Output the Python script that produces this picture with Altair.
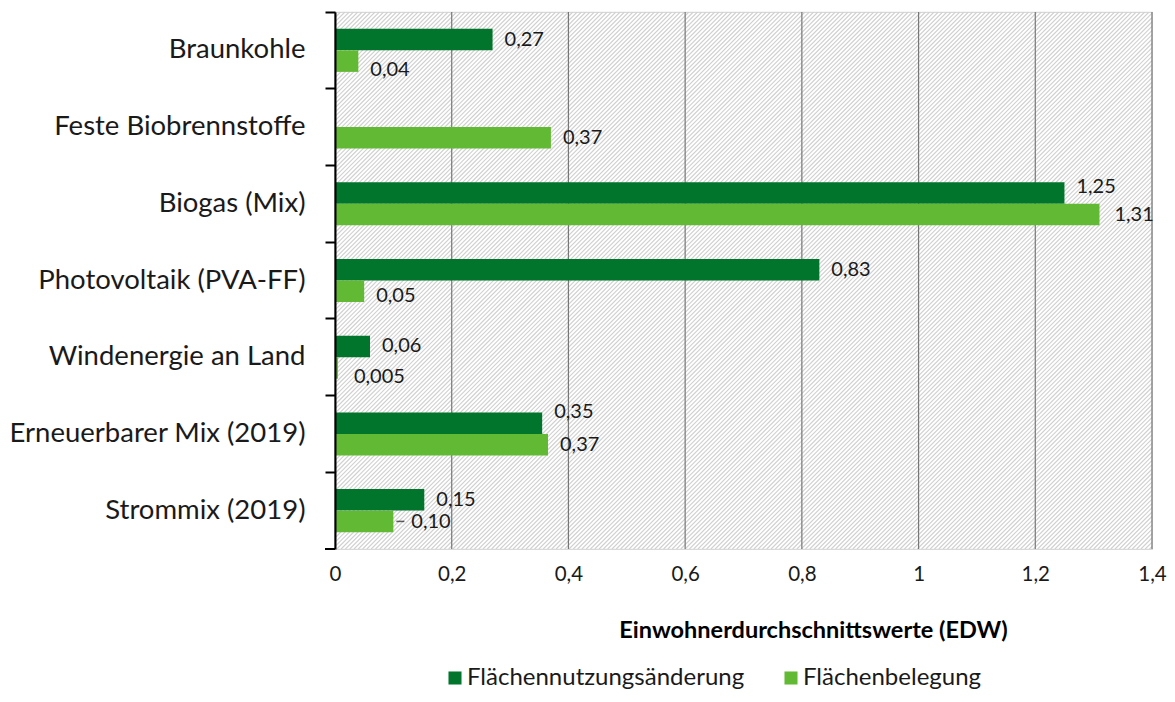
import altair as alt
import pandas as pd

categories = ["Braunkohle", "Feste Biobrennstoffe", "Biogas (Mix)", "Photovoltaik (PVA-FF)",
              "Windenergie an Land", "Erneuerbarer Mix (2019)", "Strommix (2019)"]
series = ["Flächennutzungsänderung", "Flächenbelegung"]
nutzungsaenderung = [0.27, None, 1.25, 0.83, 0.06, 0.355, 0.153]
belegung = [0.04, 0.37, 1.31, 0.05, 0.005, 0.365, 0.10]
label_nutzung = ["0,27", "", "1,25", "0,83", "0,06", "0,35", "0,15"]
label_belegung = ["0,04", "0,37", "1,31", "0,05", "0,005", "0,37", "0,10"]
x_ticks = [0, 0.2, 0.4, 0.6, 0.8, 1.0, 1.2, 1.4]
colors = ["#00752B", "#62B933"]
x_title = "Einwohnerdurchschnittswerte (EDW)"

rows = []
for i, c in enumerate(categories):
    rows.append({"cat": c, "series": series[0], "v": nutzungsaenderung[i], "lab": label_nutzung[i]})
    rows.append({"cat": c, "series": series[1], "v": belegung[i], "lab": label_belegung[i]})
df = pd.DataFrame(rows)
grid_df = pd.DataFrame({"v": x_ticks})

W, H = 817, 537
FONT = "Lato"

# label placement nudges (dx, dy) mimicking the original's label collision handling
nudges = {
    ("Braunkohle", 1): (12, 9),
    ("Biogas (Mix)", 0): (12, -6),
    ("Biogas (Mix)", 1): (15, 0),
    ("Photovoltaik (PVA-FF)", 1): (12, 5),
    ("Windenergie an Land", 1): (16, 9),
    ("Erneuerbarer Mix (2019)", 0): (12, -11),
    ("Strommix (2019)", 1): (18, 1),
}

x_scale = alt.Scale(domain=[0, 1.4], nice=False)
x_axis = alt.Axis(values=x_ticks, grid=False, labelFlush=False,
                  domain=False, ticks=False, labelPadding=15,
                  labelExpr="replace(format(datum.value, '~g'), '.', ',')",
                  labelFont=FONT, labelFontSize=20.5, labelColor="#1a1a1a",
                  titleFont=FONT, titleFontSize=23.5, titleFontWeight="bold",
                  titleColor="#000000", titleX=478, titleY=81,
                  titleAlign="center", titleBaseline="middle")
y_axis = alt.Axis(bandPosition=0, domainColor="#000000", domainWidth=2,
                  tickColor="#000000", tickWidth=2, tickSize=10,
                  labelPadding=20, labelFont=FONT, labelFontSize=27.5,
                  labelColor="#1a1a1a", labelLimit=400, zindex=1)
y_scale = alt.Scale(paddingInner=0, paddingOuter=0)


def x_enc():
    return alt.X("v:Q", scale=x_scale, title=x_title, axis=x_axis)


def y_enc():
    return alt.Y("cat:N", sort=categories, title=None, scale=y_scale, axis=y_axis)


def yoff():
    return alt.YOffset("series:N", sort=series,
                       scale=alt.Scale(paddingInner=0, paddingOuter=0.78))


# diagonal hatch background (decorative pattern of the plot area)
hatch = alt.Chart(alt.sequence(-540, 820, 4.3, as_="k")).transform_calculate(
    x0="datum.k", x1="datum.k + 537"
).mark_rule(color="#d0d0d0", strokeWidth=1.15, clip=True).encode(
    x=alt.X("x0:Q", scale=None, axis=None),
    x2="x1:Q",
    y=alt.value(H),
    y2=alt.value(0),
)

gridlines = alt.Chart(grid_df).mark_rule(color="#777777", strokeWidth=1.2).encode(
    x=x_enc()
)

base = alt.Chart(df).transform_filter("datum.v != null")

bars = base.mark_bar(size=21.5).encode(
    y=y_enc(), yOffset=yoff(), x=x_enc(),
    color=alt.Color("series:N", sort=series,
                    scale=alt.Scale(domain=series, range=colors),
                    legend=alt.Legend(title=None, orient="none", direction="horizontal",
                                      legendX=108, legendY=654, symbolType="square",
                                      symbolSize=170, symbolStrokeWidth=0,
                                      labelFont=FONT, labelFontSize=24, labelColor="#1a1a1a",
                                      labelOffset=0, columnPadding=34, labelLimit=500)),
)

# group labels by their placement nudge
groups = {}
for i, c in enumerate(categories):
    for s in range(2):
        key = nudges.get((c, s), (12, 0))
        groups.setdefault(key, []).append((c, series[s]))

label_layers = []
for (dx, dy), members in groups.items():
    cond = " || ".join(
        f"(datum.cat === '{c}' && datum.series === '{s}')" for c, s in members
    )
    label_layers.append(
        base.transform_filter(cond).mark_text(
            align="left", baseline="middle", dx=dx, dy=dy, font=FONT,
            fontSize=20, color="#1a1a1a"
        ).encode(y=y_enc(), yOffset=yoff(), x=x_enc(), text="lab:N")
    )

# short leader line of the 'Strommix' Flächenbelegung label
leader = base.transform_filter(
    f"datum.cat === 'Strommix (2019)' && datum.series === '{series[1]}'"
).mark_tick(orient="horizontal", thickness=1.5, size=8, color="#1a1a1a", xOffset=7).encode(
    y=y_enc(), yOffset=yoff(), x=x_enc()
)

bottom_tick = alt.Chart(grid_df).mark_rule(color="#000000", strokeWidth=2).encode(
    x=alt.value(-10), x2=alt.value(0), y=alt.value(H)
)

main = alt.layer(gridlines, bars, *label_layers, leader, bottom_tick)

chart = alt.layer(hatch, main).resolve_scale(
    x="independent"
).properties(
    width=W, height=H,
    autosize=alt.AutoSizeParams(type="none"),
    padding={"left": 327, "top": 4, "right": 15, "bottom": 145},
).configure_view(stroke="#d9d9d9", strokeWidth=1.2)

chart.save("out.html", embed_options={"renderer": "svg", "actions": False})
